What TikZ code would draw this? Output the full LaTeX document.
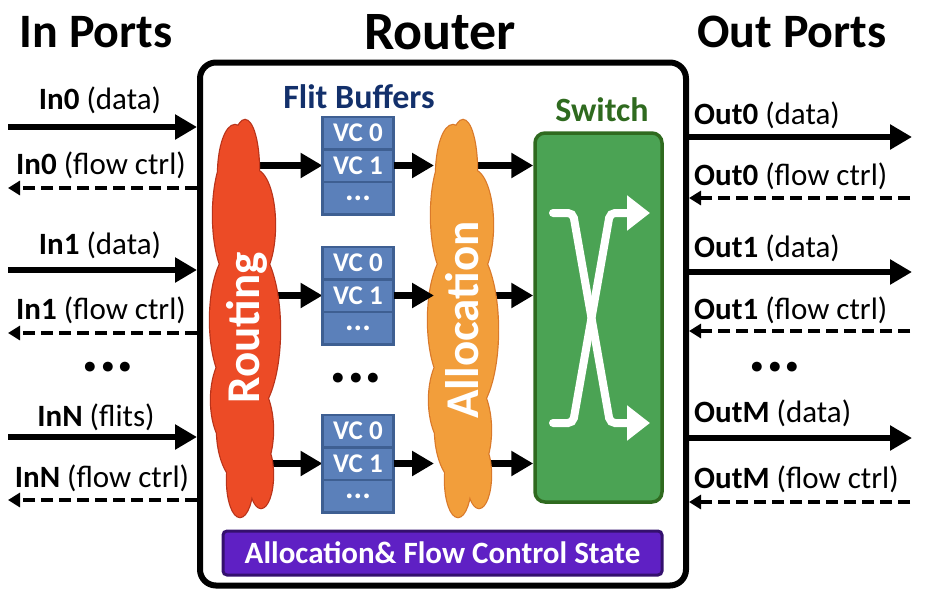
\documentclass[tikz,border=0pt]{standalone}
\usepackage{fontspec}
\setmainfont{Carlito}
\usetikzlibrary{arrows.meta,positioning,calc,backgrounds}
\definecolor{crouting}{HTML}{EC4B26}
\definecolor{croutingb}{HTML}{B8331A}
\definecolor{calloc}{HTML}{F29E3B}
\definecolor{callocb}{HTML}{D9792A}
\definecolor{cbuffer}{HTML}{5B80BA}
\definecolor{cbufferb}{HTML}{3E5F92}
\definecolor{cswitch}{HTML}{4BA354}
\definecolor{cswitchb}{HTML}{2F6A1F}
\definecolor{cstate}{HTML}{5F20C4}
\definecolor{cstateb}{HTML}{34106E}
\definecolor{cnavy}{HTML}{13306B}
% lobes of a cloud, x relative to its middle line
\newcommand{\lobulos}{
  (-10,175) ellipse [x radius=17,y radius=50]
  (0,170) ellipse [x radius=14,y radius=50]
  (-12,215) ellipse [x radius=20,y radius=65]
  (10,225) ellipse [x radius=20,y radius=55]
  (5,330) ellipse [x radius=30,y radius=85]
  (-10,320) ellipse [x radius=25,y radius=70]
  (0,430) ellipse [x radius=28,y radius=55]
  (-10,400) ellipse [x radius=24,y radius=50]
  (-5,480) ellipse [x radius=13,y radius=37]
  (16,475) ellipse [x radius=12,y radius=33]}
\tikzset{
  tit/.style={font=\fontsize{48}{52}\selectfont\bfseries,inner sep=0pt},
  lbl/.style={font=\fontsize{31}{34}\selectfont,inner sep=0pt},
  puntos/.style={font=\fontsize{66}{66}\selectfont\bfseries,inner sep=0pt},
  vccell/.style={draw=cbufferb,fill=cbuffer,line width=2.5pt,outer sep=0pt,
                 minimum width=71pt,minimum height=32.5pt,inner sep=0pt,
                 text=white,font=\fontsize{27}{28}\selectfont\bfseries},
  vcdots/.style={vccell,font=\fontsize{32}{28}\selectfont\bfseries},
  nubebox/.style={minimum width=58pt,minimum height=394pt,inner sep=0pt,outer sep=0pt},
  nubetxt/.style={rotate=90,text=white,inner sep=0pt,
                  font=\fontsize{47}{50}\selectfont\bfseries},
  routerbox/.style={draw=black,line width=6pt,rounded corners=16pt,
                    minimum width=486pt,minimum height=523pt},
  switchbox/.style={draw=cswitchb,fill=cswitch,line width=3.5pt,rounded corners=10pt,
                    minimum width=127pt,minimum height=369pt},
  statebox/.style={draw=cstateb,fill=cstate,line width=3pt,rounded corners=4pt,
                   minimum width=439pt,minimum height=44pt,text=white,
                   font=\fontsize{31}{32}\selectfont\bfseries},
  flecha/.style={line width=6.5pt,-{Triangle[length=22pt,width=24pt]}},
  flechac/.style={line width=4pt,dash pattern=on 12pt off 6pt,
                  -{Triangle[length=12pt,width=14pt]}},
  xline/.style={draw=white,line width=8pt,line cap=round,rounded corners=5pt,
                -{Triangle[length=23pt,width=34pt]}},
}

\begin{document}
\begin{tikzpicture}[x=1pt,y=-1pt]
\useasboundingbox (0,0) rectangle (926,598);

% titles
\node[tit] (tin) at (96,32) {In Ports};
\node[tit,font=\fontsize{54}{58}\selectfont\bfseries] (trouter) at (440,32) {Router};
\node[tit] (tout) at (792,32) {Out Ports};

\node[routerbox] (rb) at (443,324) {};

% routing / allocation clouds
\node[nubebox] (rt) at (245,315) {};
\node[nubebox] (al) at (463,315) {};
\begin{scope}[xshift=245pt]
  \draw[draw=croutingb,line width=2.4pt] \lobulos;
  \fill[crouting] \lobulos;
\end{scope}
\begin{scope}[xshift=463pt]
  \draw[draw=callocb,line width=2.4pt] \lobulos;
  \fill[calloc] \lobulos;
\end{scope}
\node[nubetxt] (trt) at (247,328) {Routing};
\node[nubetxt] (tal) at (462,320) {Allocation};

% flit buffers
\node[font=\fontsize{34}{36}\selectfont\bfseries,text=cnavy,inner sep=0pt] (tfb) at (359,97) {Flit Buffers};
\node[vccell] (b10) at (358,133) {VC 0};
\node[vccell,below=0pt of b10] (b11) {VC 1};
\node[vcdots,below=0pt of b11] (b12) {...};
\node[vccell] (b20) at (358,263) {VC 0};
\node[vccell,below=0pt of b20] (b21) {VC 1};
\node[vcdots,below=0pt of b21] (b22) {...};
\node[vccell] (b30) at (358,431) {VC 0};
\node[vccell,below=0pt of b30] (b31) {VC 1};
\node[vcdots,below=0pt of b31] (b32) {...};
\node[puntos] (dm) at (356,378) {...};

% switch
\node[font=\fontsize{34}{36}\selectfont\bfseries,text=cswitchb,inner sep=0pt] (tsw) at (602,110) {Switch};
\node[switchbox] (sw) at (598.5,317.5) {};
\draw[xline] (553,213) -- (573,213) -- (610,423) -- (650,423);
\draw[xline] (553,423) -- (573,423) -- (610,213) -- (650,213);

\node[statebox] (st) at (442.5,553) {Allocation\& Flow Control State};

\begin{scope}[on background layer]
\draw[flecha] (rt.center |- b11) -- (b11.west);
\draw[flecha] (rt.center |- b21) -- (b21.west);
\draw[flecha] (rt.center |- b31) -- (b31.west);
\draw[flecha] (al.center |- b11) -- (sw.west |- b11);
\draw[flecha] (al.center |- b21) -- (sw.west |- b21);
\draw[flecha] (al.center |- b31) -- (sw.west |- b31);
\end{scope}
\draw[flecha] (b11.east) -- (al.west |- b11);
\draw[flecha] (b21.east) -- (al.west |- b21);
\draw[flecha] (b31.east) -- (al.west |- b31);

% in ports
\coordinate (in0d) at (8,127);
\coordinate (in0c) at (8,188);
\coordinate (in1d) at (8,270);
\coordinate (in1c) at (8,333);
\coordinate (inNd) at (8,437);
\coordinate (inNc) at (8,500);
\node[lbl] (lin0d) at (100,100) {\textbf{In0} (data)};
\node[lbl] (lin0c) at (101,165) {\textbf{In0} (flow ctrl)};
\node[lbl] (lin1d) at (100,245) {\textbf{In1} (data)};
\node[lbl] (lin1c) at (101,310) {\textbf{In1} (flow ctrl)};
\node[puntos] (dl) at (108,367) {...};
\node[lbl] (linNd) at (96,417) {\textbf{InN} (flits)};
\node[lbl] (linNc) at (102,478) {\textbf{InN} (flow ctrl)};
\draw[flecha] (in0d) -- (in0d -| rb.west);
\draw[flechac] (in0c -| rb.west) -- (in0c);
\draw[flecha] (in1d) -- (in1d -| rb.west);
\draw[flechac] (in1c -| rb.west) -- (in1c);
\draw[flecha] (inNd) -- (inNd -| rb.west);
\draw[flechac] (inNc -| rb.west) -- (inNc);

% out ports
\coordinate (out0d) at (912,137);
\coordinate (out0c) at (910,198);
\coordinate (out1d) at (912,272);
\coordinate (out1c) at (910,331);
\coordinate (outMd) at (912,438);
\coordinate (outMc) at (910,502);
\node[lbl,anchor=west] (lout0d) at (694,115) {\textbf{Out0} (data)};
\node[lbl,anchor=west] (lout0c) at (694,176) {\textbf{Out0} (flow ctrl)};
\node[lbl,anchor=west] (lout1d) at (694,248) {\textbf{Out1} (data)};
\node[lbl,anchor=west] (lout1c) at (694,310) {\textbf{Out1} (flow ctrl)};
\node[puntos] (dr) at (775,367) {...};
\node[lbl,anchor=west] (loutMd) at (694,413) {\textbf{OutM} (data)};
\node[lbl,anchor=west] (loutMc) at (694,479) {\textbf{OutM} (flow ctrl)};
\draw[flecha] (out0d -| rb.east) -- (out0d);
\draw[flechac] (out0c) -- (out0c -| rb.east);
\draw[flecha] (out1d -| rb.east) -- (out1d);
\draw[flechac] (out1c) -- (out1c -| rb.east);
\draw[flecha] (outMd -| rb.east) -- (outMd);
\draw[flechac] (outMc) -- (outMc -| rb.east);

\end{tikzpicture}
\end{document}
